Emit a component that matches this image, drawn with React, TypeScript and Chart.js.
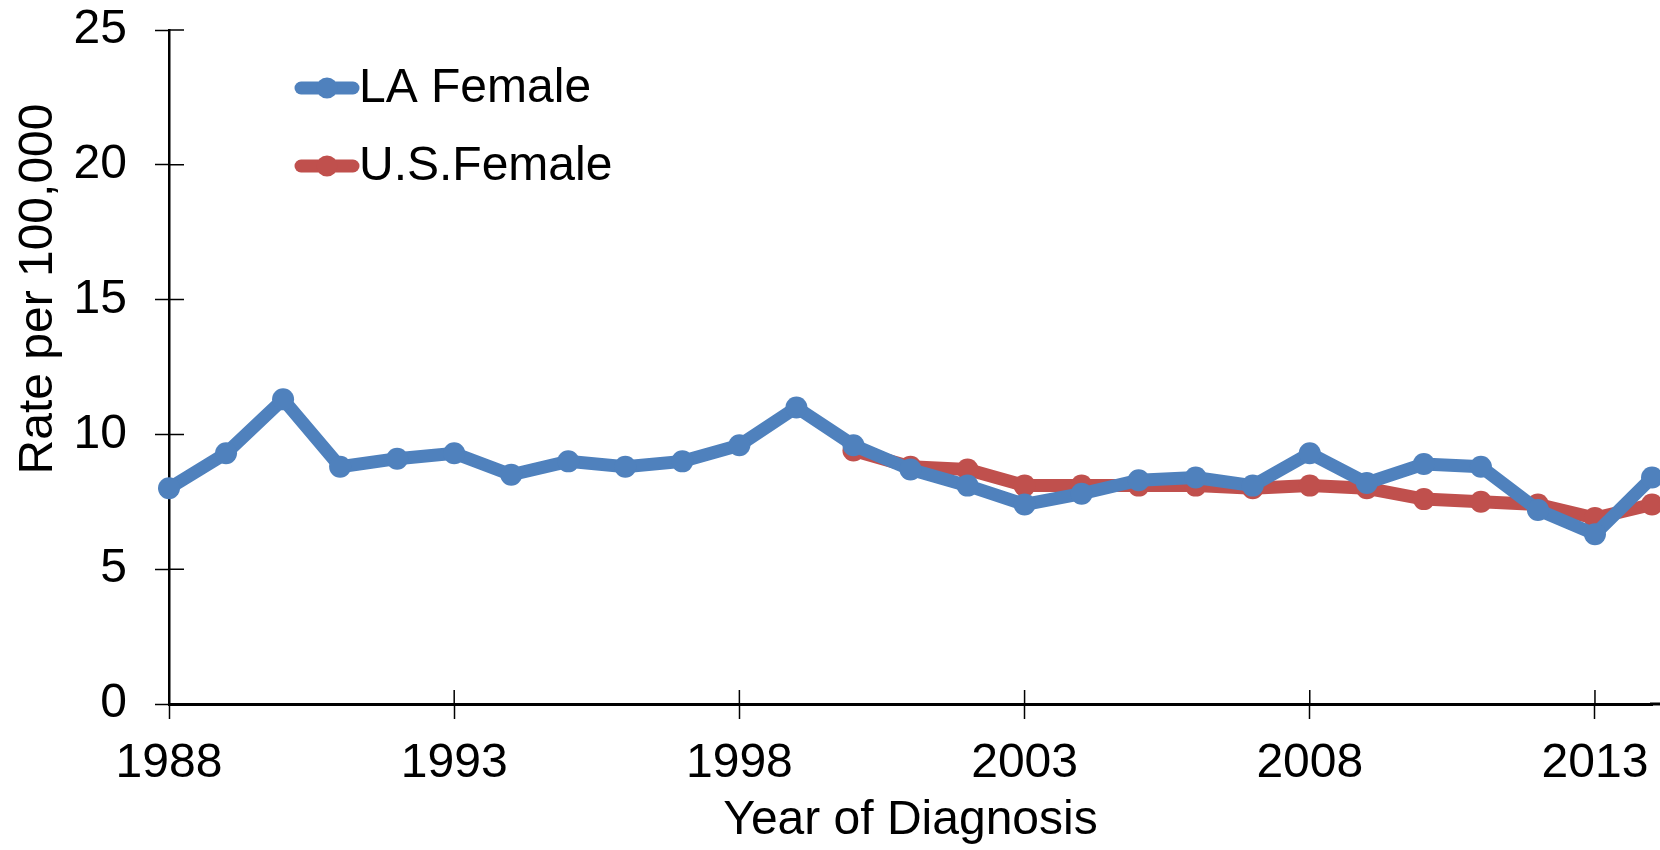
import React, { useEffect, useRef } from "react";
import { Chart, registerables } from "chart.js";

Chart.register(...registerables);

const years = [
  "1988", "1989", "1990", "1991", "1992", "1993", "1994", "1995", "1996",
  "1997", "1998", "1999", "2000", "2001", "2002", "2003", "2004", "2005",
  "2006", "2007", "2008", "2009", "2010", "2011", "2012", "2013", "2014",
];
const laFemale = [
  8.0, 9.3, 11.3, 8.8, 9.1, 9.3, 8.5, 9.0, 8.8, 9.0, 9.6, 11.0, 9.6, 8.7,
  8.1, 7.4, 7.8, 8.3, 8.4, 8.1, 9.3, 8.2, 8.9, 8.8, 7.2, 6.3, 8.4,
];
const usFemale = [
  null, null, null, null, null, null, null, null, null, null, null, null,
  9.4, 8.8, 8.7, 8.1, 8.1, 8.1, 8.1, 8.0, 8.1, 8.0, 7.6, 7.5, 7.4, 6.9, 7.4,
];
const xTickLabels = ["1988", "1993", "1998", "2003", "2008", "2013"];
const yTicks = [0, 5, 10, 15, 20, 25];
const seriesNames = ["LA Female", "U.S.Female"];
const seriesColors = ["#4F81BD", "#C0504D"];
const yTitle = "Rate per 100,000";

const FONT = "'Liberation Sans', Arial, sans-serif";
const FS = 48;

const innerTicks = {
  id: "innerTicks",
  beforeDatasetsDraw(chart: any) {
    const ctx = chart.ctx;
    const x = chart.scales.x;
    const y = chart.scales.y;
    const area = chart.chartArea;
    ctx.save();
    ctx.strokeStyle = "#000";
    ctx.lineWidth = 1.5;
    ctx.beginPath();
    yTicks.forEach((v) => {
      const py = y.getPixelForValue(v);
      ctx.moveTo(area.left, py);
      ctx.lineTo(area.left + 15, py);
    });
    xTickLabels.forEach((lab) => {
      const px = x.getPixelForValue(years.indexOf(lab));
      ctx.moveTo(px, area.bottom);
      ctx.lineTo(px, area.bottom - 14);
    });
    ctx.stroke();
    ctx.lineWidth = 3;
    ctx.beginPath();
    ctx.moveTo(area.right - 2, area.bottom);
    ctx.lineTo(chart.width, area.bottom);
    ctx.stroke();
    // y axis title
    ctx.fillStyle = "#000";
    ctx.font = `${FS}px ${FONT}`;
    ctx.textAlign = "center";
    ctx.textBaseline = "middle";
    ctx.translate(39, 289);
    ctx.rotate(-Math.PI / 2);
    ctx.fillText(yTitle, 0, 0);
    ctx.restore();
  },
};

const customLegend = {
  id: "customLegend",
  afterDraw(chart: any) {
    const ctx = chart.ctx;
    const rows = [88, 166];
    ctx.save();
    seriesNames.forEach((name, i) => {
      const cy = rows[i];
      ctx.strokeStyle = seriesColors[i];
      ctx.fillStyle = seriesColors[i];
      ctx.lineWidth = 13;
      ctx.lineCap = "round";
      ctx.beginPath();
      ctx.moveTo(301, cy);
      ctx.lineTo(353, cy);
      ctx.stroke();
      ctx.beginPath();
      ctx.arc(327, cy, 10.5, 0, Math.PI * 2);
      ctx.fill();
      ctx.fillStyle = "#000";
      ctx.font = `${FS}px ${FONT}`;
      ctx.textBaseline = "middle";
      ctx.textAlign = "left";
      ctx.fillText(name, 359, cy + 1);
    });
    ctx.restore();
  },
};

export default function App() {
  const ref = useRef<HTMLCanvasElement | null>(null);

  useEffect(() => {
    document.body.style.margin = "0";
    const canvas = ref.current;
    if (!canvas) return;
    const chart = new Chart(canvas, {
      type: "line",
      data: {
        labels: years,
        datasets: [
          {
            label: seriesNames[0],
            data: laFemale,
            borderColor: seriesColors[0],
            backgroundColor: seriesColors[0],
            borderWidth: 13,
            pointRadius: 11,
            pointBorderWidth: 0,
            pointBackgroundColor: seriesColors[0],
            tension: 0,
          },
          {
            label: seriesNames[1],
            data: usFemale,
            borderColor: seriesColors[1],
            backgroundColor: seriesColors[1],
            borderWidth: 13,
            pointRadius: 11,
            pointBorderWidth: 0,
            pointBackgroundColor: seriesColors[1],
            tension: 0,
            spanGaps: false,
          },
        ],
      },
      options: {
        animation: false,
        responsive: false,
        maintainAspectRatio: false,
        layout: {
          autoPadding: false,
          padding: { top: 30, right: 8, left: 0, bottom: 0 },
        },
        plugins: {
          legend: { display: false },
          tooltip: { enabled: false },
        },
        scales: {
          x: {
            type: "category",
            offset: false,
            grid: {
              display: true,
              drawOnChartArea: false,
              drawTicks: true,
              tickLength: 15,
              tickWidth: 1.5,
              tickColor: (c: any) =>
                xTickLabels.includes(years[c.index]) ? "#000" : "rgba(0,0,0,0)",
            },
            border: { display: true, color: "#000", width: 3 },
            ticks: {
              autoSkip: false,
              maxRotation: 0,
              minRotation: 0,
              padding: 16,
              color: "#000",
              font: { family: FONT, size: FS },
              callback: (_v: any, i: number) =>
                xTickLabels.includes(years[i]) ? years[i] : "",
            },
            title: {
              display: true,
              text: "Year of Diagnosis",
              color: "#000",
              font: { family: FONT, size: FS },
              padding: 0,
            },
            afterFit: (s: any) => {
              s.height = 146;
              s.paddingLeft = 0;
              s.paddingRight = 0;
            },
          },
          y: {
            min: 0,
            max: 25,
            grid: {
              display: true,
              drawOnChartArea: false,
              drawTicks: true,
              tickLength: 14,
              tickWidth: 1.5,
              tickColor: "#000",
            },
            border: { display: true, color: "#000", width: 2.5 },
            afterBuildTicks: (s: any) => {
              s.ticks = yTicks.map((v) => ({ value: v }));
            },
            ticks: {
              padding: 28,
              color: "#000",
              font: { family: FONT, size: FS },
            },
            title: { display: false },
            afterFit: (s: any) => {
              s.width = 169;
              s.paddingTop = 0;
              s.paddingBottom = 0;
            },
          },
        },
      },
      plugins: [innerTicks, customLegend],
    });
    return () => chart.destroy();
  }, []);

  return (
    <div style={{ width: 1660, height: 850, background: "#fff" }}>
      <canvas ref={ref} width={1660} height={850} style={{ display: "block" }} />
    </div>
  );
}
